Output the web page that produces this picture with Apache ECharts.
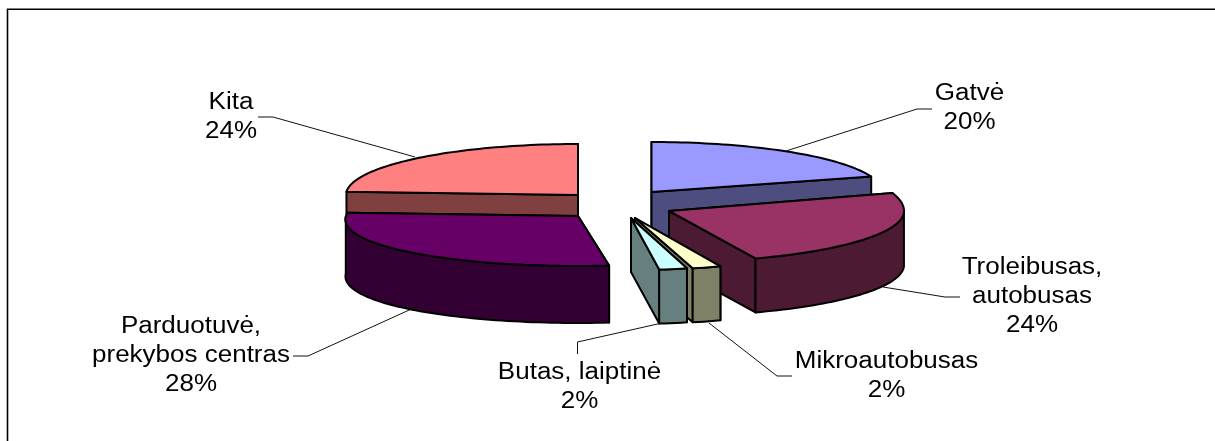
<!DOCTYPE html>
<html>
<head>
<meta charset="utf-8">
<style>html,body{margin:0;padding:0;background:#fff}#c{width:1215px;height:441px}</style>
<script src="https://cdn.jsdelivr.net/npm/echarts@6/dist/echarts.min.js"></script>
</head>
<body>
<div id="c"></div>
<script>
// Data, clockwise from twelve o'clock
const categories = ['Gatvė', 'Troleibusas,\nautobusas', 'Mikroautobusas', 'Butas, laiptinė', 'Parduotuvė,\nprekybos centras', 'Kita'];
const values = [20, 24, 2, 2, 28, 24];
const topColors = ['#9999FF', '#993366', '#FFFFCC', '#CCFFFF', '#660066', '#FF8080'];
const sideColors = ['#4D4D80', '#4D1A33', '#808066', '#668080', '#330033', '#804040'];

// Layout
const paintOrder = [5, 0, 4, 1, 2, 3];
const center = [625, 205];
const explode = [[26.5, -13], [44, 6], [10, 13], [6, 13], [-47, 11], [-47, -10]];
const radiusX = [231, 235, 232, 225, 232, 232];
const radiusBack = [50, 58, 52, 51, 50, 51];
const radiusFront = [50, 51, 52, 52, 50, 51];
const perspective = [0, 0, 0, 0, 0.07, 0];
const depth = [50, 54, 54, 54, 57, 50];
const labelCentres = [[969.5, 108], [1032, 296.5], [886.5, 376], [579.5, 387], [191, 356], [231, 117]];
const leaders = [
  [[786, 151], [917, 109], [932, 109]],
  [[883, 287], [945, 297], [960, 297]],
  [[709, 323], [777, 376], [792, 376]],
  [[662, 323], [577.5, 342], [577.5, 354]],
  [[418, 306], [308, 356], [293, 356]],
  [[415, 157], [273, 117], [258, 117]]
];
const total = values.reduce((a, b) => a + b, 0);

function angleAt(i) {
  let s = 0;
  for (let k = 0; k < i; k++) s += values[k];
  return s / total * Math.PI * 2;
}
function project(i, a, z) {
  const c = Math.cos(a), s = Math.sin(a);
  return [
    center[0] + explode[i][0] + radiusX[i] * s * (1 - perspective[i] * c),
    center[1] + explode[i][1] - c * (c > 0 ? radiusBack[i] : radiusFront[i]) + z
  ];
}
function poly(points, fill) {
  return {
    type: 'polygon',
    shape: { points: points },
    style: { fill: fill, stroke: '#000', lineWidth: 2, lineJoin: 'round' }
  };
}
function renderSlice(params, api) {
  const i = paintOrder[params.dataIndex];
  const a0 = angleAt(i);
  const a1 = a0 + api.value(0) / total * Math.PI * 2;
  const d = depth[i];
  const apexPoint = [center[0] + explode[i][0], center[1] + explode[i][1]];
  const apexLow = [apexPoint[0], apexPoint[1] + d];
  const step = Math.PI / 120;
  const arc = [];
  const n = Math.max(2, Math.ceil((a1 - a0) / step));
  for (let k = 0; k <= n; k++) arc.push(a0 + (a1 - a0) * k / n);
  const edge = a => poly([apexPoint, project(i, a, 0), project(i, a, d), apexLow], sideColors[i]);
  const yA = project(i, a0, 0)[1], yB = project(i, a1, 0)[1];
  const children = yA < yB ? [edge(a0), edge(a1)] : [edge(a1), edge(a0)];
  const rimAngles = arc.filter(a => Math.cos(a) <= 0);
  if (rimAngles.length > 1) {
    const upper = rimAngles.map(a => project(i, a, 0));
    const lower = rimAngles.slice().reverse().map(a => project(i, a, d));
    children.push(poly(upper.concat(lower), sideColors[i]));
  }
  children.push(poly([apexPoint].concat(arc.map(a => project(i, a, 0))), topColors[i]));
  return { type: 'group', children: children };
}
function renderLabel(params, api) {
  const i = params.dataIndex;
  const pct = Math.round(api.value(0) / total * 100);
  return {
    type: 'group',
    children: [
      {
        type: 'polyline',
        shape: { points: leaders[i] },
        style: { fill: null, stroke: '#111', lineWidth: 1 }
      },
      {
        type: 'text',
        x: labelCentres[i][0],
        y: labelCentres[i][1],
        scaleX: 1.13,
        style: {
          x: 0, y: 0,
          text: categories[i] + '\n' + pct + '%',
          fill: '#000',
          font: '23px "Liberation Sans", Arial, sans-serif',
          lineHeight: 29,
          align: 'center',
          verticalAlign: 'middle'
        }
      }
    ]
  };
}

const chart = echarts.init(document.getElementById('c'), null, { renderer: 'canvas' });
chart.setOption({
  animation: false,
  backgroundColor: '#fff',
  graphic: [{
    type: 'polyline',
    silent: true,
    shape: { points: [[7.5, 441], [7.5, 9.2], [1215, 9.2]] },
    style: { fill: null, stroke: '#000', lineWidth: 1.6 }
  }],
  series: [
    {
      type: 'custom',
      coordinateSystem: 'none',
      renderItem: renderSlice,
      data: paintOrder.map(i => ({ name: categories[i], value: [values[i]] }))
    },
    {
      type: 'custom',
      coordinateSystem: 'none',
      z: 3,
      renderItem: renderLabel,
      data: categories.map((c, i) => ({ name: c, value: [values[i]] }))
    }
  ]
});
</script>
</body>
</html>
